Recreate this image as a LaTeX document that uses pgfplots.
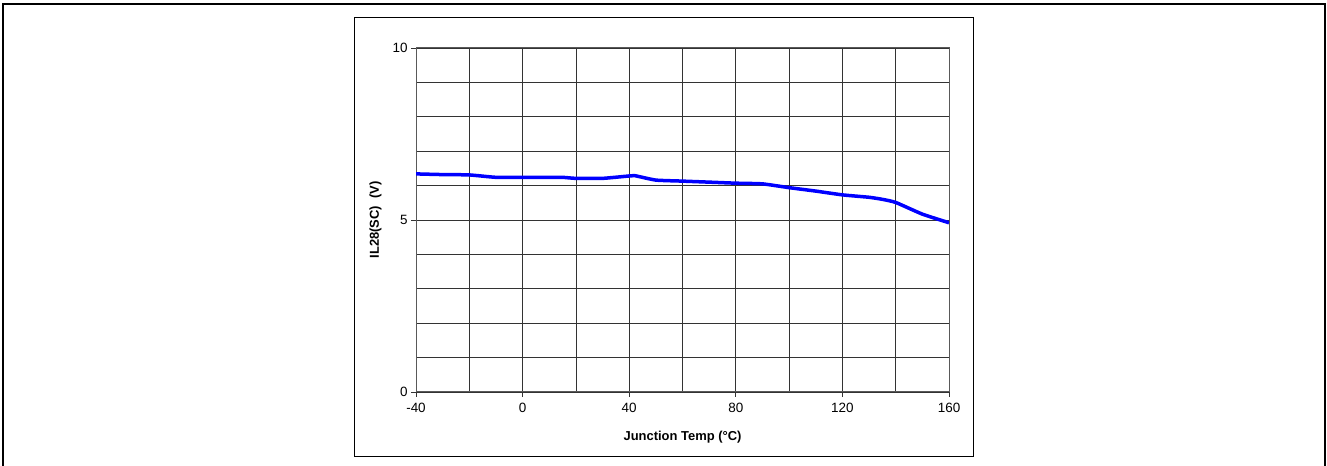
\documentclass[border=0pt]{standalone}
\usepackage{pgfplots}
\pgfplotsset{compat=1.18}
\usepackage{fontspec}
\setmainfont{Liberation Sans}
\begin{document}
\begin{tikzpicture}[x=1bp,y=1bp]
\path[use as bounding box] (0,0) rectangle (1327,466);
\draw[line width=1.2bp] (3,-5) -- (3,462) -- (1325,462) -- (1325,-5);
\draw[line width=1bp] (354,9) rectangle (973,448);
\begin{axis}[
  at={(416bp,74bp)}, anchor=south west,
  scale only axis, width=533bp, height=344bp,
  xmin=-40, xmax=160, ymin=0, ymax=10,
  xtick={-40,0,40,80,120,160}, minor xtick={-20,20,60,100,140},
  ytick={0,5,10}, minor ytick={1,2,3,4,6,7,8,9},
  grid=both,
  major grid style={black!80, line width=0.8bp},
  minor grid style={black!80, line width=0.8bp},
  axis line style={black!65, line width=1bp},
  tick pos=left, tick align=outside,
  major tick length=5bp, minor tick length=0pt,
  tick style={black!80, line width=0.8bp},
  /pgf/number format/assume math mode=true,
  ticklabel style={font=\fontsize{13.5}{15}\selectfont},
  xticklabel style={yshift=-3bp},
  xlabel={\textbf{Junction Temp (°C)}},
  ylabel={\textbf{IL28(SC)\ \ (V)}},
  xlabel style={font=\fontsize{13}{15}\selectfont, at={(axis description cs:0.5,-0.131)}, anchor=center},
  ylabel style={font=\fontsize{13}{15}\selectfont, at={(axis description cs:-0.076,0.5)}, anchor=center, rotate=0},
]
\addplot[color={rgb,255:red,0;green,0;blue,255}, line width=3.5bp, line join=round, smooth, tension=0.3] coordinates {
(-40,6.34) (-30,6.32) (-20,6.31) (-10,6.24) (0,6.24) (10,6.24) (15,6.24)
(20,6.21) (30,6.21) (40,6.28) (42,6.29) (50,6.16) (60,6.13) (70,6.10)
(80,6.07) (90,6.05) (100,5.94) (110,5.84) (120,5.73) (130,5.66) (135,5.60)
(140,5.51) (150,5.17) (160,4.92)
};
\end{axis}
\end{tikzpicture}
\end{document}
